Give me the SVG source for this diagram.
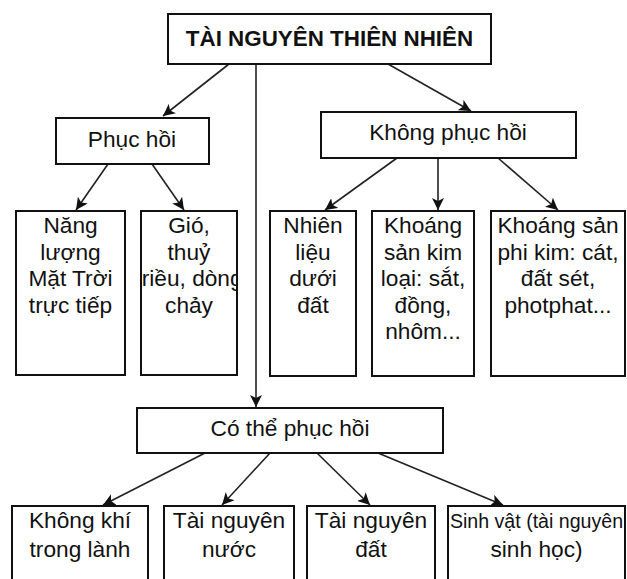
<svg xmlns="http://www.w3.org/2000/svg" width="627" height="579" viewBox="0 0 627 579">
<style>
.box{fill:#fff;stroke:#111;stroke-width:2}
.t{font-family:"Liberation Sans",Arial,sans-serif;font-size:22.7px;fill:#111;text-anchor:middle}
.b{font-weight:bold;font-size:22.4px}
.c{stroke:#222;stroke-width:1.6;fill:none}
</style>
<defs>
<marker id="ah" markerUnits="userSpaceOnUse" markerWidth="14" markerHeight="12" refX="12" refY="6" orient="auto">
<path d="M0,0 L12,6 L0,12 L3,6 Z" fill="#111"/>
</marker>
<clipPath id="clipGio"><rect x="142" y="212" width="94" height="162"/></clipPath>
</defs>
<rect width="627" height="579" fill="#fff"/>
<g id="connectors">
<line class="c" x1="229" y1="64" x2="163" y2="116" marker-end="url(#ah)"/>
<line class="c" x1="256" y1="64" x2="256" y2="407" marker-end="url(#ah)"/>
<line class="c" x1="388" y1="64" x2="471" y2="111" marker-end="url(#ah)"/>
<line class="c" x1="108" y1="164" x2="76" y2="210" marker-end="url(#ah)"/>
<line class="c" x1="152" y1="164" x2="184" y2="210" marker-end="url(#ah)"/>
<line class="c" x1="397" y1="158" x2="325" y2="210" marker-end="url(#ah)"/>
<line class="c" x1="438" y1="158" x2="438" y2="210" marker-end="url(#ah)"/>
<line class="c" x1="498" y1="158" x2="558" y2="210" marker-end="url(#ah)"/>
<line class="c" x1="205" y1="453" x2="103" y2="505" marker-end="url(#ah)"/>
<line class="c" x1="270" y1="453" x2="222" y2="505" marker-end="url(#ah)"/>
<line class="c" x1="317" y1="453" x2="370" y2="505" marker-end="url(#ah)"/>
<line class="c" x1="378" y1="453" x2="503" y2="505" marker-end="url(#ah)"/>
</g>
<g id="root">
<rect class="box" x="168" y="14" width="323" height="50"/>
<text class="t b" x="329.5" y="46">TÀI NGUYÊN THIÊN NHIÊN</text>
</g>
<g id="phuc-hoi">
<rect class="box" x="56" y="118" width="153" height="46"/>
<text class="t" x="132" y="147">Phục hồi</text>
</g>
<g id="khong-phuc-hoi">
<rect class="box" x="321" y="112" width="255" height="46"/>
<text class="t" x="448" y="140">Không phục hồi</text>
</g>
<g id="nang-luong">
<rect class="box" x="16" y="211" width="109" height="164"/>
<text class="t" x="70.5" y="233">Năng</text>
<text class="t" x="70.5" y="259.5">lượng</text>
<text class="t" x="70.5" y="286">Mặt Trời</text>
<text class="t" x="70.5" y="312.5">trực tiếp</text>
</g>
<g id="gio">
<rect class="box" x="141" y="211" width="96" height="164"/>
<g clip-path="url(#clipGio)">
<text class="t" x="189" y="233">Gió,</text>
<text class="t" x="189" y="259.5">thuỷ</text>
<text class="t" x="189" y="286">triều, dòng</text>
<text class="t" x="189" y="312.5">chảy</text>
</g>
</g>
<g id="nhien-lieu">
<rect class="box" x="270" y="211" width="86" height="165"/>
<text class="t" x="313" y="233">Nhiên</text>
<text class="t" x="313" y="259.5">liệu</text>
<text class="t" x="313" y="286">dưới</text>
<text class="t" x="313" y="312.5">đất</text>
</g>
<g id="khoang-san-kim-loai">
<rect class="box" x="372" y="211" width="102" height="165"/>
<text class="t" x="423" y="233">Khoáng</text>
<text class="t" x="423" y="259.5">sản kim</text>
<text class="t" x="423" y="286">loại: sắt,</text>
<text class="t" x="423" y="312.5">đồng,</text>
<text class="t" x="423" y="339">nhôm...</text>
</g>
<g id="khoang-san-phi-kim">
<rect class="box" x="491" y="211" width="134" height="165"/>
<text class="t" x="558" y="233">Khoáng sản</text>
<text class="t" x="558" y="259.5">phi kim: cát,</text>
<text class="t" x="558" y="286">đất sét,</text>
<text class="t" x="558" y="312.5">photphat...</text>
</g>
<g id="co-the-phuc-hoi">
<rect class="box" x="137" y="408" width="306" height="45"/>
<text class="t" x="290" y="436">Có thể phục hồi</text>
</g>
<g id="khong-khi">
<rect class="box" x="12" y="506" width="136" height="100"/>
<text class="t" x="80" y="528">Không khí</text>
<text class="t" x="80" y="557">trong lành</text>
</g>
<g id="nuoc">
<rect class="box" x="164" y="506" width="130" height="100"/>
<text class="t" x="229" y="528">Tài nguyên</text>
<text class="t" x="229" y="557">nước</text>
</g>
<g id="dat">
<rect class="box" x="307" y="506" width="128" height="100"/>
<text class="t" x="371" y="528">Tài nguyên</text>
<text class="t" x="371" y="557">đất</text>
</g>
<g id="sinh-vat">
<rect class="box" x="448" y="506" width="177" height="100"/>
<text class="t" x="536.5" y="528" style="font-size:19.6px">Sinh vật (tài nguyên</text>
<text class="t" x="536.5" y="557">sinh học)</text>
</g>
</svg>
